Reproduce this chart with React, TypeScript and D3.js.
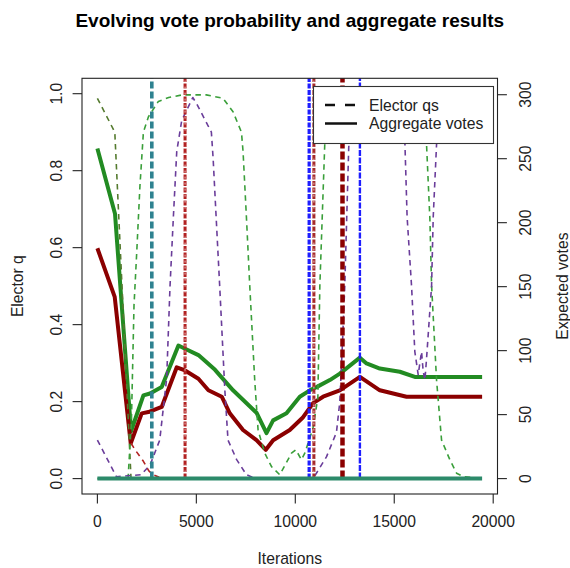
import React from 'react';
import * as d3 from 'd3';

const W = 570;
const H = 568;
const FONT = '"Liberation Sans", Arial, Helvetica, sans-serif';
const box = { left: 82, right: 497.5, top: 78.3, bottom: 494 };

// aggregate expected votes (right axis)
const greenAggIters = [0, 890, 1700, 2325, 2660, 3250, 4095, 4430, 5105, 5945, 6855, 8040, 8545, 8880, 9555, 10228, 10733, 11070, 11745, 12250, 13265, 13600, 14272, 15283, 16041, 19440];
const greenAggVotes = [258, 207, 37, 65, 66.5, 71.5, 104, 101.5, 96.5, 85, 69, 51.5, 35.5, 45.5, 51, 64, 69, 71.5, 77, 82, 94.5, 90, 86, 83.5, 79.5, 79.5];
const redAggIters = [0, 875, 1685, 2240, 2578, 3250, 4010, 4430, 5105, 5610, 6285, 6690, 7360, 8040, 8510, 8880, 9720, 10395, 10900, 11405, 12250, 13265, 14272, 15620, 19440];
const redAggVotes = [180, 142, 27.5, 51, 52, 56, 87, 84.5, 78, 69, 64, 51, 38, 30, 22.5, 30, 38, 48, 59, 64, 69, 79.5, 69, 64, 64];
const zeroAggIters = [0, 19440];
const zeroAggVotes = [0, 0];

// elector q traces (left axis)
const oliveIters = [0, 880, 1700, 19440];
const oliveQ = [0.988, 0.9, 0.0, 0.0];
const greenIters = [0, 1550, 1720, 1850, 1990, 2150, 2325, 2580, 3080, 3600, 4300, 5500, 6350, 6855, 7280, 7360, 7530, 7700, 7950, 8120, 8460, 8800, 9216, 9808, 10025, 10313, 10480, 10890, 11140, 11240, 11490, 11700, 16300, 16633, 16800, 16886, 17138, 17391, 17811, 18150, 18484, 19440];
const greenQ = [0, 0, 0.15, 0.45, 0.59, 0.76, 0.9, 0.94, 0.98, 0.99, 0.997, 0.997, 0.988, 0.953, 0.9, 0.85, 0.68, 0.5, 0.256, 0.126, 0.066, 0.031, 0.01, 0.066, 0.075, 0.049, 0.066, 0.13, 0.21, 0.5, 0.87, 1.0, 1.0, 0.867, 0.676, 0.503, 0.256, 0.1, 0.049, 0.014, 0.005, 0];
const purpleIters = [0, 960, 2200, 2660, 3150, 3500, 3670, 3840, 4010, 4260, 4820, 5005, 5760, 5850, 6180, 6440, 6600, 7030, 7530, 8000, 10900, 11580, 12080, 12250, 12390, 12500, 12700, 12900, 15200, 15540, 15650, 15875, 16040, 16210, 16380, 16460, 16550, 16630, 16886, 16970, 17140, 17400, 19440];
const purpleQ = [0.1, 0.005, 0.01, 0.035, 0.1, 0.26, 0.5, 0.68, 0.85, 0.93, 0.99, 0.975, 0.9, 0.83, 0.5, 0.23, 0.1, 0.05, 0.01, 0, 0, 0.057, 0.12, 0.2, 0.36, 0.5, 0.86, 1.0, 1.0, 0.87, 0.68, 0.5, 0.33, 0.27, 0.33, 0.28, 0.256, 0.31, 0.5, 0.68, 0.87, 1.0, 1.0];
const redIters = [1700, 1900, 2325, 2600, 2830, 3100, 3600];
const redQ = [0.092, 0.075, 0.045, 0.02, 0.01, 0.004, 0];

// electors whose q jumps straight from 0 to 1
const jumpIters = [2750, 4430, 10700, 10940, 12385, 13265];
const jumpColors = ['#2F8290', '#B22222', '#1E1EFF', '#A52A2A', '#8B0000', '#1E1EFF'];
const jumpWidths = [3.6, 3, 3.2, 3, 4.5, 2.4];
const jumpDash = ['7,3', '5,1.5', '5,1.5', '5,1.5', '8,3', '6,1.5'];

const xTicks = [0, 5000, 10000, 15000, 20000];
const qTicks = [0, 0.2, 0.4, 0.6, 0.8, 1.0];
const voteTicks = [0, 50, 100, 150, 200, 250, 300];

export default function App() {
  const padX = ((box.right - box.left) * 0.04) / 1.08;
  const padY = ((box.bottom - box.top) * 0.04) / 1.08;
  const x = d3.scaleLinear().domain([0, 19440]).range([box.left + padX, box.right - padX]);
  const yQ = d3.scaleLinear().domain([0, 1]).range([box.bottom - padY, box.top + padY]);
  const yV = d3.scaleLinear().domain([0, 300.8]).range([box.bottom - padY, box.top + padY]);

  const lineV = (its: number[], vs: number[]) =>
    d3.line<number>().x((d) => x(d)).y((_, i) => yV(vs[i]))(its) || '';
  const lineQ = (its: number[], vs: number[]) =>
    d3.line<number>().x((d) => x(d)).y((_, i) => yQ(vs[i]))(its) || '';

  const dashed = (d: string, color: string, w = 1.6) => (
    <path d={d} fill="none" stroke={color} strokeWidth={w} strokeDasharray="5.5,4.5" strokeLinejoin="round" />
  );

  const midY = (box.top + box.bottom) / 2;

  return (
    <svg width={W} height={H} style={{ position: 'absolute', left: 0, top: 0, background: '#fff' }} fontFamily={FONT}>
      <defs>
        <clipPath id="plotClip">
          <rect x={box.left} y={box.top} width={box.right - box.left} height={box.bottom - box.top} />
        </clipPath>
      </defs>
      <rect width={W} height={H} fill="#fff" />

      <g clipPath="url(#plotClip)">
        <path d={lineV(greenAggIters, greenAggVotes)} fill="none" stroke="#228B22" strokeWidth={4} strokeLinejoin="round" />
        <path d={lineV(redAggIters, redAggVotes)} fill="none" stroke="#8B0000" strokeWidth={4} strokeLinejoin="round" />

        {dashed(lineQ(oliveIters, oliveQ), '#557B2F')}
        {dashed(lineQ(greenIters, greenQ), '#3A9F3A')}
        {dashed(lineQ(purpleIters, purpleQ), '#6A3D9A')}
        {dashed(lineQ(redIters, redQ), '#B22222')}

        {jumpIters.map((it, i) => (
          <g key={i}>
            <line x1={x(it)} x2={x(it)} y1={yQ(0)} y2={yQ(1.1)} stroke={jumpColors[i]} strokeWidth={jumpWidths[i]} strokeDasharray={jumpDash[i]} />
            {(i === 1 || i === 3) && (
              <line x1={x(it)} x2={x(it)} y1={yQ(0)} y2={yQ(1.1)} stroke="#fff" strokeWidth={0.7} strokeDasharray="2,4" />
            )}
          </g>
        ))}

        <path d={lineV(zeroAggIters, zeroAggVotes)} fill="none" stroke="#2C8A6A" strokeWidth={4} />
      </g>

      <rect x={box.left} y={box.top} width={box.right - box.left} height={box.bottom - box.top} fill="none" stroke="#222" strokeWidth={1.1} />

      {/* bottom axis */}
      {xTicks.map((t) => (
        <g key={t}>
          <line x1={x(t)} x2={x(t)} y1={box.bottom} y2={box.bottom + 9.4} stroke="#222" strokeWidth={1.1} />
          <text x={x(t)} y={527} fontSize={15.7} textAnchor="middle" fill="#222">{t}</text>
        </g>
      ))}
      <text x={(box.left + box.right) / 2} y={564} fontSize={15.7} textAnchor="middle" fill="#222">Iterations</text>

      {/* left axis */}
      {qTicks.map((t) => (
        <g key={t}>
          <line x1={box.left - 9.4} x2={box.left} y1={yQ(t)} y2={yQ(t)} stroke="#222" strokeWidth={1.1} />
          <text transform={`translate(62,${yQ(t)}) rotate(-90)`} fontSize={15.7} textAnchor="middle" fill="#222">{t.toFixed(1)}</text>
        </g>
      ))}
      <text transform={`translate(23,${midY}) rotate(-90)`} fontSize={15.7} textAnchor="middle" fill="#222">Elector q</text>

      {/* right axis */}
      {voteTicks.map((t) => (
        <g key={t}>
          <line x1={box.right} x2={box.right + 9.4} y1={yV(t)} y2={yV(t)} stroke="#222" strokeWidth={1.1} />
          <text transform={`translate(531,${yV(t)}) rotate(-90)`} fontSize={15.7} textAnchor="middle" fill="#222">{t}</text>
        </g>
      ))}
      <text transform={`translate(568,${midY}) rotate(-90)`} fontSize={15.7} textAnchor="middle" fill="#222">Expected votes</text>

      {/* title */}
      <text x={(box.left + box.right) / 2} y={27} fontSize={19} fontWeight="bold" textAnchor="middle" fill="#000">
        Evolving vote probability and aggregate results
      </text>

      {/* legend */}
      <rect x={313.5} y={86.5} width={180} height={57} fill="#fff" stroke="#333" strokeWidth={1.1} />
      <line x1={325} x2={357} y1={105} y2={105} stroke="#111" strokeWidth={2.5} strokeDasharray="10,10" />
      <line x1={325} x2={357} y1={123.5} y2={123.5} stroke="#111" strokeWidth={2.5} />
      <text x={369} y={110.5} fontSize={15.7} fill="#222">Elector qs</text>
      <text x={369} y={129} fontSize={15.7} fill="#222">Aggregate votes</text>
    </svg>
  );
}
